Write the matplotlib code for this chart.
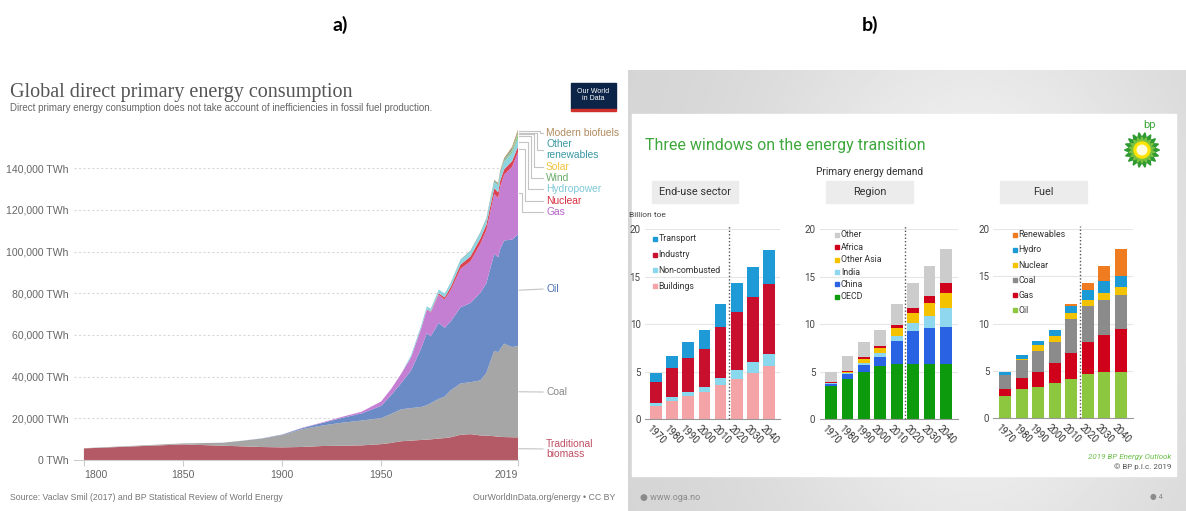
import numpy as np
import matplotlib
matplotlib.use('Agg')
import matplotlib.pyplot as plt
from matplotlib.patches import Rectangle, Polygon, Circle

W, H = 1186, 511

# ---------------- panel a: global direct primary energy (TWh) ----------------
years_a = [1800, 1850, 1870, 1880, 1890, 1900, 1910, 1920, 1930, 1940, 1950, 1955,
           1960, 1965, 1970, 1973, 1975, 1979, 1982, 1985, 1990, 1995, 2000, 2003,
           2007, 2009, 2010, 2012, 2016, 2019]
trad_biomass = [5560, 7480, 6850, 6540, 6220, 6060, 6250, 6700, 6850, 7010, 7600, 8200,
                9000, 9300, 9600, 9800, 9900, 10300, 10500, 10900, 12100, 12400, 11800, 11700,
                11400, 11200, 11100, 11000, 10900, 10840]
coal = [100, 480, 1440, 2700, 4100, 5900, 8500, 9800, 11000, 11900, 12500, 13900,
        15300, 15600, 15800, 16500, 17400, 19000, 19900, 22500, 24600, 24900, 26400, 30000,
        41000, 40500, 42000, 44800, 43300, 43800]
oil = [0, 0, 10, 30, 80, 200, 500, 1200, 2300, 3400, 5900, 9000,
       12500, 18000, 27800, 34500, 32000, 36500, 33000, 33000, 36500, 38000, 42000, 43000,
       46500, 45500, 48000, 49500, 51500, 53600]
gas = [0, 0, 0, 0, 0, 60, 150, 250, 500, 800, 2100, 3000,
       4500, 6300, 9500, 11300, 11400, 13500, 13600, 15000, 18500, 20000, 23500, 25500,
       28700, 28500, 30000, 31600, 35000, 39300]
nuclear = [0, 0, 0, 0, 0, 0, 0, 0, 0, 0, 0, 0,
           0, 20, 80, 200, 370, 690, 1000, 1500, 2000, 2300, 2500, 2600,
           2750, 2700, 2770, 2470, 2610, 2796]
hydro = [0, 0, 0, 0, 0, 0, 0, 0, 0, 0, 0, 0,
         0, 920, 1180, 1320, 1420, 1650, 1760, 1960, 2160, 2480, 2650, 2640,
         3060, 3250, 3440, 3660, 4030, 4222]
wind = [0, 0, 0, 0, 0, 0, 0, 0, 0, 0, 0, 0,
        0, 0, 0, 0, 0, 0, 0, 0, 4, 8, 31, 63,
        170, 275, 342, 522, 960, 1430]
solar = [0, 0, 0, 0, 0, 0, 0, 0, 0, 0, 0, 0,
         0, 0, 0, 0, 0, 0, 0, 0, 0, 0, 1, 2,
         8, 20, 33, 100, 330, 724]
other_renew = [0, 0, 0, 0, 0, 0, 0, 0, 0, 0, 0, 0,
               0, 20, 30, 40, 50, 70, 90, 130, 170, 210, 230, 270,
               350, 400, 430, 500, 600, 700]
modern_biofuels = [0, 0, 0, 0, 0, 0, 0, 0, 0, 0, 0, 0,
                   0, 0, 0, 0, 0, 0, 0, 0, 110, 110, 110, 170,
                   400, 560, 640, 680, 930, 1100]

layers_a = [trad_biomass, coal, oil, gas, nuclear, hydro, wind, solar, other_renew, modern_biofuels]
colors_a = ['#b45a66', '#a6a6a6', '#6a8bc6', '#c47fd3', '#dd4250',
            '#8fd4e1', '#7fbf7f', '#f6c84c', '#3e9ea6', '#b78d5e']
names_a = ['Traditional\nbiomass', 'Coal', 'Oil', 'Gas', 'Nuclear', 'Hydropower',
           'Wind', 'Solar', 'Other\nrenewables', 'Modern biofuels']
label_cols_a = ['#c04f63', '#888888', '#4d70b4', '#b764c8', '#d83040', '#7ec8d8',
                '#6aaa6a', '#f2c23e', '#3a98a4', '#b08a60']
# label heights beside the chart (TWh)
label_y_a = [5300, 32600, 82000, 118950, 124200, 130000, 135250, 140500, 148900, 156830]

# ---------------- panel b: BP primary energy demand (billion toe) ----------------
years_b = ['1970', '1980', '1990', '2000', '2010', '2020', '2030', '2040']

buildings = [1.37, 1.93, 2.42, 2.81, 3.58, 4.21, 4.88, 5.61]
non_combusted = [0.28, 0.35, 0.46, 0.59, 0.70, 0.95, 1.08, 1.23]
industry = [2.28, 3.05, 3.58, 3.97, 5.37, 6.14, 6.84, 7.36]
transport = [0.95, 1.30, 1.61, 1.96, 2.42, 2.98, 3.23, 3.60]

oecd = [3.47, 4.18, 4.91, 5.58, 5.75, 5.82, 5.79, 5.75]
china = [0.21, 0.52, 0.77, 0.98, 2.46, 3.44, 3.82, 3.97]
india = [0.11, 0.18, 0.25, 0.35, 0.53, 0.88, 1.23, 1.93]
other_asia = [0.03, 0.10, 0.42, 0.53, 0.80, 1.05, 1.41, 1.65]
africa = [0.04, 0.11, 0.14, 0.24, 0.35, 0.46, 0.70, 1.05]
other_region = [1.05, 1.58, 1.65, 1.69, 2.21, 2.70, 3.15, 3.51]

oil_b = [2.29, 3.06, 3.27, 3.70, 4.15, 4.68, 4.82, 4.82]
gas_b = [0.81, 1.17, 1.62, 2.07, 2.72, 3.31, 3.98, 4.58]
coal_b = [1.41, 1.86, 2.22, 2.26, 3.59, 3.81, 3.70, 3.63]
nuclear_b = [0.03, 0.18, 0.57, 0.67, 0.63, 0.70, 0.77, 0.81]
hydro_b = [0.32, 0.35, 0.42, 0.56, 0.71, 1.06, 1.24, 1.23]
renewables_b = [0.03, 0.03, 0.03, 0.07, 0.28, 0.77, 1.58, 2.78]

panels_b = [
    ([buildings, non_combusted, industry, transport],
     ['Buildings', 'Non-combusted', 'Industry', 'Transport'],
     ['#f4a3a6', '#8ad8ee', '#c8102e', '#1e9ad6']),
    ([oecd, china, india, other_asia, africa, other_region],
     ['OECD', 'China', 'India', 'Other Asia', 'Africa', 'Other'],
     ['#0d9a0d', '#2a62e4', '#8fd6ef', '#f5c200', '#d0011b', '#cccccc']),
    ([oil_b, gas_b, coal_b, nuclear_b, hydro_b, renewables_b],
     ['Oil', 'Gas', 'Coal', 'Nuclear', 'Hydro', 'Renewables'],
     ['#8dc63f', '#d0021b', '#8b8b8b', '#f3c300', '#1b9ad6', '#f07c22']),
]

SANS = ['Liberation Sans', 'DejaVu Sans']
BPFONT = ['Roboto', 'DejaVu Sans']


def rect(x0, y0, x1, y1):
    return [x0 / W, 1 - y1 / H, (x1 - x0) / W, (y1 - y0) / H]


fig = plt.figure(figsize=(W / 100, H / 100), dpi=100)
fig.patch.set_facecolor('white')

# full-figure pixel canvas for backgrounds and free text
bg = fig.add_axes([0, 0, 1, 1], zorder=0)
bg.set_xlim(0, W)
bg.set_ylim(H, 0)
bg.axis('off')

bg.text(340, 25, 'a)', fontsize=14, fontweight='bold', family='Lato', ha='center', va='center')
bg.text(870, 25, 'b)', fontsize=14, fontweight='bold', family='Lato', ha='center', va='center')

# ---- panel a decorations ----
bg.text(10, 93, 'Global direct primary energy consumption', family='Liberation Serif',
        fontsize=14.5, color='#555555', va='center')
bg.text(10, 108, 'Direct primary energy consumption does not take account of inefficiencies '
        'in fossil fuel production.', family=SANS, fontsize=7, color='#666666',
        va='center')
bg.add_patch(Rectangle((571, 83), 45, 26, color='#0b2447'))
bg.add_patch(Rectangle((571, 109), 45, 2.5, color='#d0302a'))
bg.text(593.5, 95, 'Our World\nin Data', color='white', fontsize=5, ha='center', va='center',
        family=SANS, linespacing=1.0)
bg.text(10, 498, 'Source: Vaclav Smil (2017) and BP Statistical Review of World Energy',
        family=SANS, fontsize=6.3, color='#777777', va='center')
bg.text(615, 498, 'OurWorldInData.org/energy \u2022 CC BY', family=SANS,
        fontsize=6.3, color='#777777', va='center', ha='right')

ax = fig.add_axes(rect(74, 126.4, 518, 460), zorder=1)
ax.patch.set_alpha(0)
ax.stackplot(years_a, *layers_a, colors=colors_a, linewidth=0)
ax.set_xlim(1795, 2019)
ax.set_ylim(0, 160000)
ax.set_yticks(range(0, 140001, 20000))
ax.set_yticklabels(['{:,} TWh'.format(v) for v in range(0, 140001, 20000)])
ax.set_xticks([1800, 1850, 1900, 1950, 2019])
ax.set_xticklabels(['1800', '1850', '1900', '1950', '2019'])
xl = ax.get_xticklabels()
xl[0].set_ha('left')
xl[-1].set_ha('right')
for lab in ax.get_xticklabels() + ax.get_yticklabels():
    lab.set_family(SANS)
    lab.set_fontsize(7.6)
    lab.set_color('#666666')
ax.tick_params(axis='y', length=0, pad=4)
ax.tick_params(axis='x', length=4, color='#cccccc', width=0.8, pad=3)
for v in range(20000, 140001, 20000):
    ax.axhline(v, color='#d8d8d8', lw=0.8, ls=(0, (2, 2)), zorder=0)
for s in ['top', 'right', 'left']:
    ax.spines[s].set_visible(False)
ax.spines['bottom'].set_color('#cccccc')
ax.spines['bottom'].set_linewidth(0.8)

# labels at the right end with connector lines
px_per_year = 1.98
cum = np.cumsum([l[-1] for l in layers_a])
mids = cum - np.array([l[-1] for l in layers_a]) / 2
x_edge = 2019 + 1 / px_per_year
x_end = 2019 + 25 / px_per_year
x_text = 2019 + 28 / px_per_year
stagger = {3: 4, 4: 7, 5: 10, 6: 13, 7: 16, 8: 19, 9: 22}
for i, (name, col, ly) in enumerate(zip(names_a, label_cols_a, label_y_a)):
    if i in stagger:
        xv = 2019 + stagger[i] / px_per_year
        ax.plot([x_edge, xv, xv, x_end], [mids[i], mids[i], ly, ly], color='#c4c4c4',
                lw=0.8, clip_on=False, zorder=2)
    else:
        ax.plot([x_edge, x_end], [mids[i], ly], color='#c4c4c4', lw=0.8, clip_on=False, zorder=2)
    ax.text(x_text, ly, name, color=col, fontsize=7.4, family=SANS, va='center',
            ha='left', linespacing=1.05, clip_on=False)

# ---- panel b background frame ----
u = np.linspace(0, 1, 300)
v = np.linspace(0, 1, 120)
U, V = np.meshgrid(u, v)
grad = 0.83 + 0.13 * np.exp(-((U - 0.62) / 0.38) ** 2) * (0.6 + 0.4 * np.sin(np.pi * V))
bg.imshow(grad, extent=(628, W, H, 70), aspect='auto', cmap='gray', vmin=0, vmax=1, zorder=0)
bg.add_patch(Rectangle((632, 114), 544, 362, color='white', zorder=1))

green = '#3fa83d'
bg.text(645, 150, 'Three windows on the energy transition', color=green, family=BPFONT,
        fontsize=11.5, va='baseline', zorder=3)
bg.text(870, 172, 'Primary energy demand', color='#333333', family=BPFONT, fontsize=7.3,
        ha='center', va='center', zorder=3)
for (x0, x1), title in zip([(652, 738), (826, 913), (1000, 1087)],
                           ['End-use sector', 'Region', 'Fuel']):
    bg.add_patch(Rectangle((x0, 181), x1 - x0, 22, color='#ececec', zorder=2))
    bg.text((x0 + x1) / 2, 192, title, color='#333333', family=BPFONT, fontsize=7.8,
            ha='center', va='center', zorder=3)
bg.text(629, 215, 'Billion toe', color='#444444', family=BPFONT, fontsize=6, va='center', zorder=3)

# bp helios mark
cx, cy = 1142, 150
for n, r_out, r_in, col, rot in [(18, 17.5, 12.5, '#2f9a31', 0.0),
                                 (18, 13.0, 9.0, '#7cc242', np.pi / 18)]:
    ang = np.linspace(0, 2 * np.pi, 2 * n, endpoint=False) + rot
    rr = np.where(np.arange(2 * n) % 2 == 0, r_out, r_in)
    bg.add_patch(Polygon(np.c_[cx + rr * np.cos(ang), cy + rr * np.sin(ang)], closed=True,
                         color=col, zorder=3))
bg.add_patch(Circle((cx, cy), 8.0, color='#ffe400', zorder=4))
bg.add_patch(Circle((cx, cy), 4.8, color='#fffde0', zorder=5))
bg.text(1150, 125, 'bp', color=green, family=BPFONT, fontsize=8, ha='center', va='center', zorder=3)

bg.text(1171, 457, '2019 BP Energy Outlook', color='#6cc04a', style='italic', family=BPFONT,
        fontsize=5.8, ha='right', va='center', zorder=3)
bg.text(1171, 467, '\u00a9 BP p.l.c. 2019', color='#555555', family=BPFONT, fontsize=5.8,
        ha='right', va='center', zorder=3)
bg.text(640, 497, '\u25cf www.oga.no', color='#8a8a8a', family=BPFONT, fontsize=6.5,
        va='center', zorder=3)
bg.text(1163, 497, '\u25cf 4', color='#8a8a8a', family=BPFONT, fontsize=5.5,
        ha='right', va='center', zorder=3)

# ---- panel b stacked bars ----
bar_boxes = [(644.7, 780.3, 419), (819.5, 957.5, 419), (993.4, 1132.6, 418)]
legend_x = [(-0.05, 0.15), (0.37, 0.6), (0.6, 0.8)]
legend_top = [18.95, 19.37, 19.37]
legend_step = [1.65, 1.30, 1.59]
x = np.arange(len(years_b))
for (layers, names, cols), (x0, x1, y0), (mx, tx), ltop, lstep in zip(
        panels_b, bar_boxes, legend_x, legend_top, legend_step):
    bx = fig.add_axes(rect(x0, 229, x1, y0), zorder=2)
    bx.patch.set_alpha(0)
    bottom = np.zeros(len(x))
    for vals, col in zip(layers, cols):
        bx.bar(x, vals, width=0.72, bottom=bottom, color=col, linewidth=0, zorder=2)
        bottom += np.array(vals)
    bx.set_xlim(-0.7, 7.7)
    bx.set_ylim(0, 20)
    bx.set_yticks([0, 5, 10, 15, 20])
    bx.tick_params(axis='y', length=0, pad=3, labelsize=7, labelcolor='#444444')
    for lab in bx.get_yticklabels():
        lab.set_family(BPFONT)
    bx.set_xticks([])
    for yy in [5, 10, 15, 20]:
        bx.axhline(yy, color='#e6e6e6', lw=0.8, zorder=0)
    for s in ['top', 'right', 'left']:
        bx.spines[s].set_visible(False)
    bx.spines['bottom'].set_color('#999999')
    bx.spines['bottom'].set_linewidth(0.8)
    bx.plot([4.5, 4.5], [0, 20.3], color='#555555', lw=1.0, ls=(0, (1, 1.5)),
            clip_on=False, zorder=3)
    for i, yr in enumerate(years_b):
        bx.text(i - 0.45, -0.8, yr, rotation=-45, rotation_mode='anchor', ha='left',
                va='center', fontsize=7, color='#333333', family=BPFONT)
    for k, (name, col) in enumerate(zip(names[::-1], cols[::-1])):
        ly = ltop - k * lstep
        bx.plot([mx], [ly], marker='s', ms=3, color=col, ls='none', clip_on=False, zorder=4)
        bx.text(tx, ly, name, fontsize=6.3, color='#333333', family=BPFONT, va='center',
                ha='left', zorder=4)

fig.savefig('out.png', dpi=100)
